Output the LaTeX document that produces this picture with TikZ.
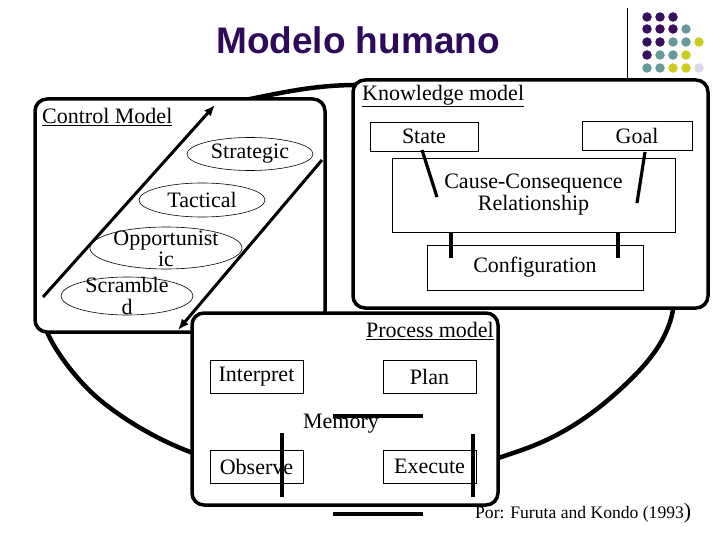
\documentclass[tikz,border=0pt]{standalone}
\usepackage{fontspec}
\setmainfont{Liberation Serif}
\newfontfamily\titlefont{Liberation Sans}
\usetikzlibrary{arrows.meta,shapes.geometric}
\definecolor{tpurple}{RGB}{46,10,92}
\definecolor{dpurple}{RGB}{55,15,95}
\definecolor{dteal}{RGB}{102,153,153}
\definecolor{dyellow}{RGB}{204,204,34}
\definecolor{dlav}{RGB}{216,216,232}
\begin{document}
\begin{tikzpicture}[x=1pt,y=-1pt,
  model/.style={draw, line width=3.5pt, rounded corners=12pt, fill=white, inner sep=0pt},
  level/.style={draw, ellipse, line width=0.6pt, inner sep=0pt},
  item/.style={draw, line width=0.6pt, inner sep=0pt, align=center, font=\fontsize{22}{22}\selectfont},
  lbl/.style={inner sep=0pt, align=center, font=\fontsize{22}{21.5}\selectfont},
  link/.style={line width=3.2pt},
  flow/.style={line width=3pt, -{Latex[length=11pt,width=9pt]}},
  dot/.style={circle, inner sep=0pt, minimum size=9.5pt}]
\useasboundingbox (0,0) rectangle (720,540);

% title and decoration
\node[inner sep=0pt, text=tpurple, font=\titlefont\bfseries\fontsize{37}{37}\selectfont] (title) at (358,40) {Modelo humano};
\coordinate (vt) at (627,8);
\coordinate (vb) at (627,78);
\draw[line width=0.8pt] (vt) -- (vb);
\foreach \x/\y/\c in {647/17/dpurple,660/17/dpurple,673/17/dpurple,
  647/29/dpurple,660/29/dpurple,673/29/dpurple,686/29/dteal,
  647/42/dpurple,660/42/dpurple,673/42/dteal,686/42/dteal,699/42/dyellow,
  647/55/dpurple,660/55/dteal,673/55/dteal,686/55/dyellow,
  647/68/dteal,660/68/dteal,673/68/dyellow,686/68/dyellow,699/68/dlav}
  \node[dot, fill=\c] at (\x,\y) {};

% big cycle behind the models
\draw[line width=4.5pt] plot[smooth cycle, tension=0.55] coordinates {
  (250,99) (353,85) (520,95) (662,190) (673,310) (627,383) (530,447)
  (345,490) (193,453) (100,400) (47,332) (44,270) (75,185) (150,125)};

% model boxes
\node[model, minimum width=290pt, minimum height=233pt] (ctrl) at (180,215.5) {};
\node[model, minimum width=355pt, minimum height=228pt] (know) at (530.5,194) {};
\node[model, minimum width=306pt, minimum height=192pt] (proc) at (345,409) {};

\node[lbl, anchor=west] (ctrlL) at (42,117) {\underline{Control Model}};
\node[lbl, anchor=west] (knowL) at (362,96) {\underline{Knowledge model}};
\node[lbl, anchor=east] (procL) at (494,331) {\underline{Process model}};

% control model
\node[level, minimum width=126pt, minimum height=33pt] (strat) at (250,154) {};
\node[lbl] at (strat) {Strategic};
\node[level, minimum width=126pt, minimum height=34pt] (tact) at (202,200) {};
\node[lbl] at (tact) {Tactical};
\node[level, minimum width=152pt, minimum height=42pt] (opp) at (166,248) {};
\node[lbl] at (166,249) {Opportunist\\ic};
\node[level, minimum width=132pt, minimum height=38pt] (scr) at (127,296) {};
\node[lbl] at (127,296) {Scramble\\d};
\coordinate (up0) at (43,297);
\coordinate (up1) at (215,105);
\coordinate (dn0) at (322,160);
\coordinate (dn1) at (178,330);
\draw[flow] (up0) -- (up1);
\draw[flow] (dn0) -- (dn1);

% knowledge model
\node[item, minimum width=108pt, minimum height=29pt] (state) at (424,136.5) {State};
\node[item, minimum width=110pt, minimum height=29pt] (goal) at (637,135.5) {Goal};
\node[item, minimum width=283pt, minimum height=74pt] (cause) at (533.5,195) {Cause-Consequence\\Relationship};
\node[item, minimum width=216pt, minimum height=45pt] (config) at (535,267.5) {Configuration};
\coordinate (s1) at (422,150);
\coordinate (s2) at (437,197);
\coordinate (g1) at (645,152);
\coordinate (g2) at (637,203);
\coordinate (c1a) at (451,232);
\coordinate (c1b) at (451,258);
\coordinate (c2a) at (618,232);
\coordinate (c2b) at (618,258);
\draw[link] (s1) -- (s2);
\draw[link] (g1) -- (g2);
\draw[link] (c1a) -- (c1b);
\draw[link] (c2a) -- (c2b);

% process model
\node[item, minimum width=93pt, minimum height=33pt] (interp) at (256.5,376.5) {Interpret};
\node[item, minimum width=93pt, minimum height=33pt] (plan) at (429.5,376.5) {Plan};
\node[item, minimum width=93pt, minimum height=33pt] (obs) at (256.5,466.5) {Observe};
\node[item, minimum width=93pt, minimum height=33pt] (exec) at (429.5,466.5) {Execute};
\node[lbl, anchor=base] (mem) at (341,428) {Memory};
\coordinate (m1) at (333,416);
\coordinate (m2) at (423,416);
\coordinate (o1) at (282,433);
\coordinate (o2) at (282,497);
\coordinate (e1) at (473,434);
\coordinate (e2) at (473,497);
\coordinate (b1) at (333,514);
\coordinate (b2) at (423,514);
\draw[link] (m1) -- (m2);
\draw[link] (o1) -- (o2);
\draw[link] (e1) -- (e2);
\draw[link] (b1) -- (b2);

% citation
\node[inner sep=0pt, anchor=base west, font=\fontsize{17.6}{17.6}\selectfont] (cite) at (475,518) {Por: Furuta and Kondo (1993{\fontsize{22}{22}\selectfont)}};
\end{tikzpicture}
\end{document}
